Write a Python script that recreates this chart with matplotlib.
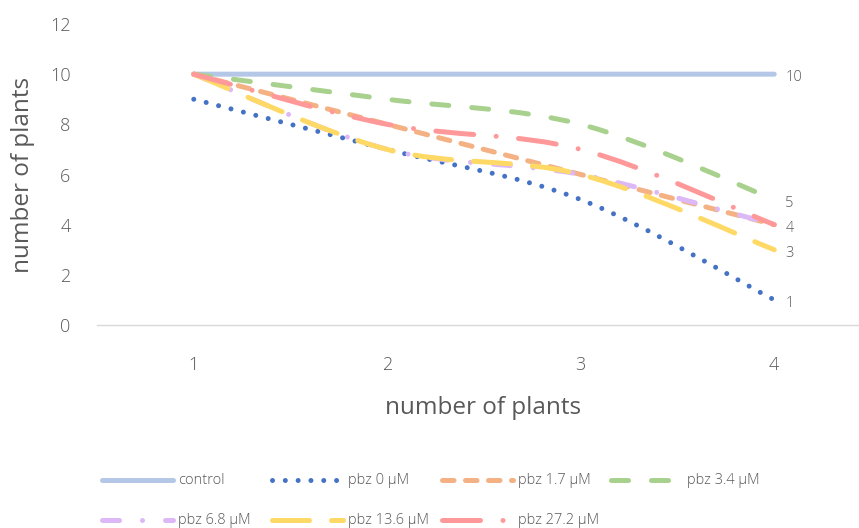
import matplotlib
matplotlib.use("Agg")
import matplotlib.pyplot as plt
from matplotlib.lines import Line2D
from matplotlib.path import Path
from matplotlib.patches import PathPatch

plt.rcParams["font.family"] = ["Open Sans", "DejaVu Sans"]
plt.rcParams["font.weight"] = "light"
plt.rcParams["lines.scale_dashes"] = False

# data
x_cats = [1, 2, 3, 4]
series_names = ["control", "pbz 0 \u00b5M", "pbz 1.7 \u00b5M", "pbz 3.4 \u00b5M",
                "pbz 6.8 \u00b5M", "pbz 13.6 \u00b5M", "pbz 27.2 \u00b5M"]
control = [10, 10, 10, 10]
pbz_0 = [9, 7, 5, 1]
pbz_1_7 = [10, 8, 6, 4]
pbz_3_4 = [10, 9, 8, 5]
pbz_6_8 = [10, 7, 6, 4]
pbz_13_6 = [10, 7, 6, 3]
pbz_27_2 = [10, 8, 7, 4]
series_values = [control, pbz_0, pbz_1_7, pbz_3_4, pbz_6_8, pbz_13_6, pbz_27_2]
labelled = ["control", "pbz 0 \u00b5M", "pbz 1.7 \u00b5M", "pbz 3.4 \u00b5M", "pbz 13.6 \u00b5M"]
y_ticks = [0, 2, 4, 6, 8, 10, 12]

colors = ["#B4C7E7", "#4472C4", "#F4B183", "#A9D18E", "#DDB8F7", "#FFD966", "#FF9999"]
PT = 0.72  # points per pixel at dpi 100
dashes = [
    None,
    (0, (0.01, 12.8 * PT)),
    (0, (11.5 * PT, 11.5 * PT)),
    (0, (17 * PT, 23 * PT)),
    (0, (17 * PT, 23 * PT, 0.01, 23 * PT)),
    (0, (37 * PT, 22 * PT)),
    (0, (38 * PT, 22.5 * PT, 0.01, 22.5 * PT)),
]
LW = 5 * PT
W, H = 859, 528
GRAY = "#595959"


def smooth_path(xs, ys):
    # Excel-like smoothed line: Catmull-Rom converted to cubic Bezier segments
    pts = list(zip(xs, ys))
    n = len(pts)
    verts = [pts[0]]
    codes = [Path.MOVETO]
    for i in range(n - 1):
        p0 = pts[i - 1] if i > 0 else pts[i]
        p1 = pts[i]
        p2 = pts[i + 1]
        p3 = pts[i + 2] if i + 2 < n else pts[i + 1]
        c1 = (p1[0] + (p2[0] - p0[0]) / 6, p1[1] + (p2[1] - p0[1]) / 6)
        c2 = (p2[0] - (p3[0] - p1[0]) / 6, p2[1] - (p3[1] - p1[1]) / 6)
        verts += [c1, c2, p2]
        codes += [Path.CURVE4] * 3
    return Path(verts, codes)


def fpx(x, y):
    return x / W, 1 - y / H


fig = plt.figure(figsize=(W / 100, H / 100), dpi=100)
ax = fig.add_axes([97 / W, 1 - 325 / H, 774 / W, 301 / H])

for name, vals, col, ls in zip(series_names, series_values, colors, dashes):
    patch = PathPatch(smooth_path(x_cats, vals), fill=False, edgecolor=col,
                      linewidth=LW, transform=ax.transData)
    patch.set_capstyle("round")
    patch.set_joinstyle("round")
    if ls is not None:
        patch.set_linestyle(ls)
    ax.add_patch(patch)
    if name in labelled:
        ax.annotate(str(vals[-1]), (x_cats[-1], vals[-1]), xytext=(8, -2.5),
                    textcoords="offset points", ha="left", va="center",
                    fontsize=10.5, color=GRAY)

ax.set_xlim(0.5, 4.5)
ax.set_ylim(0, 12)
ax.set_xticks(x_cats)
ax.set_yticks(y_ticks)
for s in ["top", "right", "left"]:
    ax.spines[s].set_visible(False)
ax.spines["bottom"].set_color("#D9D9D9")
ax.spines["bottom"].set_linewidth(1.0)
ax.tick_params(axis="both", length=0, labelsize=13, labelcolor=GRAY)
ax.tick_params(axis="y", pad=19)
ax.tick_params(axis="x", pad=22)
ax.set_xlabel("number of plants", fontsize=17.5, color=GRAY,
              ha="center", va="center")
ax.set_ylabel("number of plants", fontsize=17.5, color=GRAY,
              ha="center", va="center")
ax.xaxis.set_label_coords(483 / W, 1 - 408 / H, transform=fig.transFigure)
ax.yaxis.set_label_coords(23 / W, 1 - 175 / H, transform=fig.transFigure)

# legend, drawn by hand to match column positions
col_x = [102, 272, 442, 611]
row_y = [480, 520]
for i, (name, col, ls) in enumerate(zip(series_names, colors, dashes)):
    x0 = col_x[i % 4]
    y0 = row_y[i // 4]
    a, b = fpx(x0, y0)
    c, _ = fpx(x0 + 71, y0)
    ln = Line2D([a, c], [b, b], transform=fig.transFigure, color=col,
                linewidth=LW, solid_capstyle="round", dash_capstyle="round")
    if ls is not None:
        ln.set_linestyle(ls)
    fig.add_artist(ln)
    tx, ty = fpx(x0 + 76, y0)
    fig.text(tx, ty, name, fontsize=10.5, color=GRAY, ha="left", va="center")

fig.savefig("out.png", dpi=100)
